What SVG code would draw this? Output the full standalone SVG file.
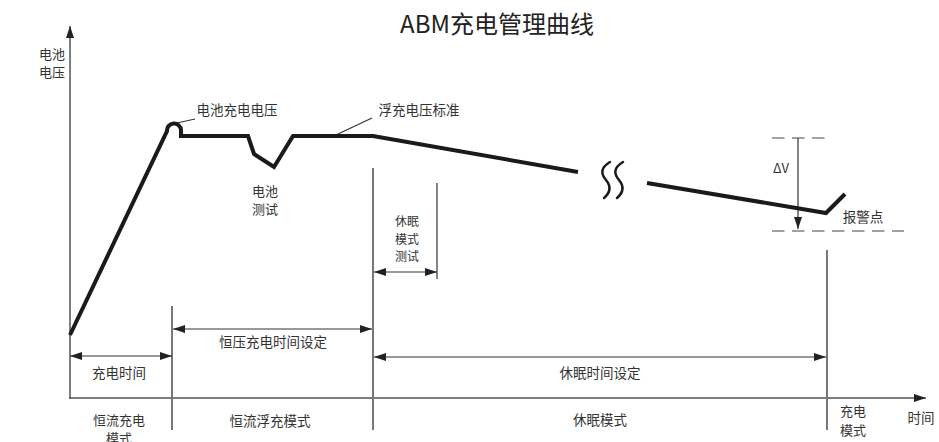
<svg xmlns="http://www.w3.org/2000/svg" width="939" height="442" viewBox="0 0 939 442">
<defs>
<style>
text{font-family:"Noto Sans CJK SC","Noto Sans",sans-serif;fill:#333;font-size:13.5px;text-anchor:middle}
.title{font-size:24px;fill:#222}
.st{font-size:13px}
.sm{font-size:12px}
.axis{stroke:#555;stroke-width:1.5;fill:none}
.div{stroke:#777;stroke-width:2;fill:none}
.thin{stroke:#333;stroke-width:1.2;fill:none}
.dash{stroke:#444;stroke-width:1.2;fill:none;stroke-dasharray:12.5 7.5}
.curve{stroke:#1a1a1a;stroke-width:4;fill:none;stroke-linejoin:miter}
.wave{stroke:#1a1a1a;stroke-width:2.5;fill:none;stroke-linecap:round}
.dbl{marker-start:url(#ah);marker-end:url(#ah)}
.one{marker-end:url(#ah)}
</style>
<marker id="ah" viewBox="0 0 12 8" refX="12" refY="4" markerWidth="12" markerHeight="8" orient="auto-start-reverse" markerUnits="userSpaceOnUse"><path d="M0,0 L12,4 L0,8 z" fill="#222"/></marker>
</defs>
<rect width="939" height="442" fill="#fff"/>
<text class="title" x="497" y="33">ABM充电管理曲线</text>

<g id="axes">
<line class="axis one" x1="70" y1="399" x2="70" y2="26"/>
<line class="axis one" x1="69" y1="398" x2="926" y2="398"/>
</g>

<g id="dividers">
<line class="div" x1="172" y1="306" x2="172" y2="430"/>
<line class="div" x1="373" y1="168" x2="373" y2="430"/>
<line class="div" x1="827" y1="250" x2="827" y2="430"/>
<line class="thin" x1="437" y1="183" x2="437" y2="279"/>
</g>

<g id="connectors">
<line class="thin dbl" x1="70" y1="356" x2="172" y2="356"/>
<line class="thin dbl" x1="173" y1="329" x2="372" y2="329"/>
<line class="thin dbl" x1="374" y1="272" x2="437" y2="272"/>
<line class="thin dbl" x1="374" y1="357" x2="826" y2="357"/>
<line class="thin one" x1="798" y1="138" x2="798" y2="229"/>
<line class="thin" x1="177" y1="123" x2="195" y2="119"/>
<line class="thin" x1="338" y1="134" x2="372" y2="118"/>
</g>

<g id="curve">
<path class="curve" d="M70,335 L167,131 A7,7 0 0 1 181,130 L181,136 L248,136 L254,154 L274,167 L293,136 L373,136 L578,172"/>
<path class="wave" d="M610,162 C600,168 601,174 606,180 C611,186 611,192 604,198"/>
<path class="wave" d="M623,162 C613,168 614,174 619,180 C624,186 624,192 617,198"/>
<path class="curve" d="M647,183 L826,213 L845,194"/>
</g>

<g id="levels">
<line class="dash" x1="772" y1="138" x2="826" y2="138"/>
<line class="dash" x1="772" y1="231" x2="904" y2="231"/>
</g>

<g id="labels">
<text class="st" x="52" y="59">电池</text>
<text class="st" x="52" y="77">电压</text>
<text x="237" y="115">电池充电电压</text>
<text x="419" y="115">浮充电压标准</text>
<text class="st" x="265" y="196">电池</text>
<text class="st" x="265" y="214">测试</text>
<text class="sm" x="407" y="226">休眠</text>
<text class="sm" x="407" y="243.5">模式</text>
<text class="sm" x="407" y="261">测试</text>
<text x="781" y="173" style="font-size:13px">ΔV</text>
<text x="863" y="222">报警点</text>
<text x="119" y="378">充电时间</text>
<text x="273" y="347">恒压充电时间设定</text>
<text x="600" y="378">休眠时间设定</text>
<text class="st" x="119" y="425">恒流充电</text>
<text class="st" x="119" y="443">模式</text>
<text x="270" y="426">恒流浮充模式</text>
<text x="600" y="425">休眠模式</text>
<text class="st" x="853" y="416">充电</text>
<text class="st" x="853" y="435">模式</text>
<text x="921" y="423">时间</text>
</g>
</svg>
